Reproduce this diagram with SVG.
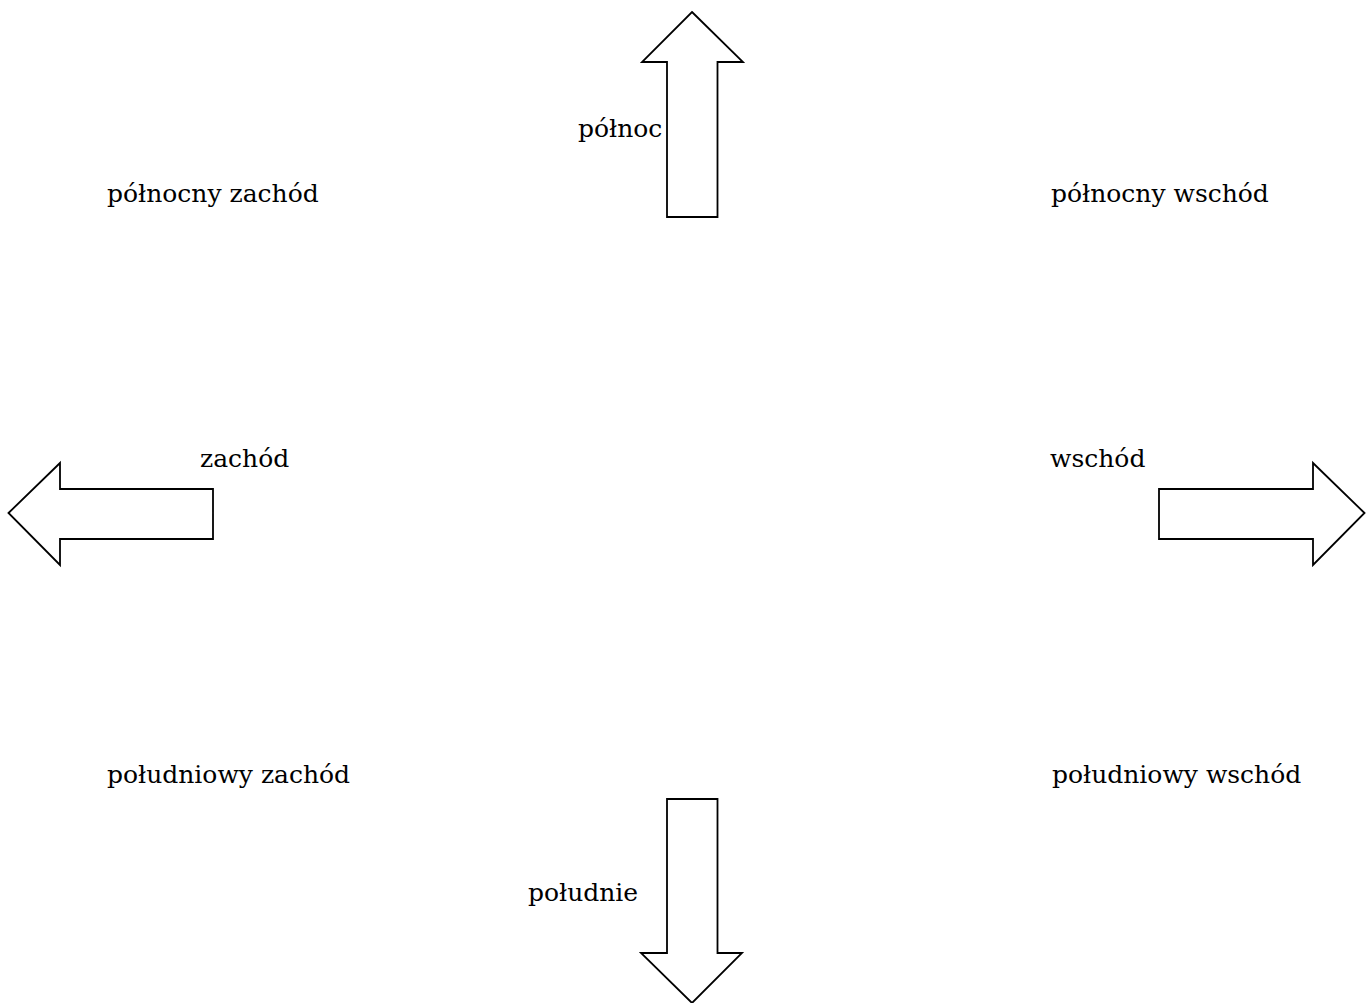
<svg xmlns="http://www.w3.org/2000/svg" width="1368" height="1003" viewBox="0 0 1368 1003">
<style>
.arrow{fill:#fff;stroke:#000;stroke-width:1.8;stroke-linejoin:miter}
.lbl{font-family:"DejaVu Serif","Liberation Serif",serif;font-size:25px;fill:#000}
</style>
<rect width="1368" height="1003" fill="#fff"/>
<g id="connectors">
<polygon id="arrow-north" class="arrow" points="692,12 743,62 717.5,62 717.5,217 667,217 667,62 642,62"/>
<polygon id="arrow-west" class="arrow" points="8.5,513 60,463 60,489 213,489 213,539 60,539 60,565"/>
<polygon id="arrow-east" class="arrow" points="1364.5,513 1313,463 1313,489 1159,489 1159,539 1313,539 1313,565"/>
<polygon id="arrow-south" class="arrow" points="692,1003 742,953 717.5,953 717.5,799 667,799 667,953 641,953"/>
</g>
<g id="north"><text class="lbl" x="578" y="137">północ</text></g>
<g id="northwest"><text class="lbl" x="107" y="201.5">północny zachód</text></g>
<g id="northeast"><text class="lbl" x="1051" y="201.5">północny wschód</text></g>
<g id="west"><text class="lbl" x="200" y="466.5">zachód</text></g>
<g id="east"><text class="lbl" x="1050" y="466.5">wschód</text></g>
<g id="southwest"><text class="lbl" x="107" y="783">południowy zachód</text></g>
<g id="southeast"><text class="lbl" x="1052" y="783">południowy wschód</text></g>
<g id="south"><text class="lbl" x="528" y="900.5">południe</text></g>
</svg>
